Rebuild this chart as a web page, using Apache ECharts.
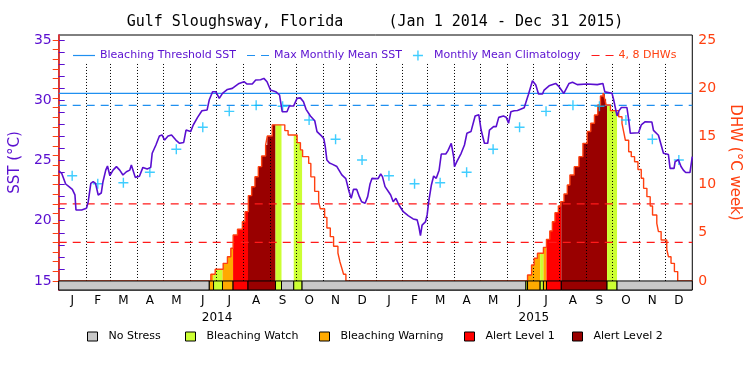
<!DOCTYPE html>
<html>
<head>
<meta charset="utf-8">
<title>Gulf Sloughsway, Florida</title>
<script src="https://cdn.jsdelivr.net/npm/echarts@6/dist/echarts.min.js"></script>
<style>
  html, body { margin: 0; padding: 0; background: #fff; }
  #chart { width: 750px; height: 375px; }
</style>
</head>
<body>
<div id="chart"></div>
<script>
  // ---- data (day 0 = Jan 1 2014) ----
  var monthLetters = ['J', 'F', 'M', 'A', 'M', 'J', 'J', 'A', 'S', 'O', 'N', 'D'];
  var monthLen = [31, 28, 31, 30, 31, 30, 31, 31, 30, 31, 30, 31];
  var years = ['2014', '2015'];

  // monthly mean climatology (°C), same for each year
  var clim = [23.74, 23.07, 23.16, 24.02, 25.93, 27.76, 29.08, 29.58, 29.5, 28.36, 26.76, 25.04];
  var maxMonthlyMean = 29.58;
  var bleachThreshold = 30.58;
  var dhwLevels = [4, 8];

  // daily SST
  var sstDay = [0, 3.4, 8, 11.8, 15.7, 18.7, 19.9, 26.4, 32, 34, 37, 39.7, 42.4, 45.5, 49, 51, 54.2, 56.2, 59, 62.6,
    66.5, 70.3, 74, 78, 81.8, 83.7, 85.6, 88.2, 93, 97, 102, 106, 107.7, 112, 116, 119, 122, 126, 130, 135,
    139.3, 144, 146.7, 152, 155, 160, 165, 171, 173.4, 177.3, 181, 185, 188.7, 194.4, 200, 207.8, 213.5, 217, 223, 227,
    232.6, 236.4, 240, 244, 250, 254.4, 257.5, 263, 265.7, 270.6, 274.6, 278.4, 282, 285, 290, 295, 297.6, 303.3, 305.5, 307.1,
    309, 312, 315, 320.5, 326.2, 330.8, 334.6, 337, 339.6, 343.4, 346.4, 349, 353, 356, 358.7, 361, 364, 368, 371, 373,
    376, 380, 382.5, 385.4, 388.5, 390, 392, 397, 402.6, 408.4, 413, 415, 416.8, 418.7, 422.5, 424.5, 426.3, 429.4, 432, 435,
    438.3, 440.8, 446, 448.5, 452.3, 455, 456, 458.7, 463.7, 467.5, 470.3, 475, 479.8, 484, 486.7, 490.5, 494.3, 496.3, 501, 504,
    507, 512.4, 515.5, 518.3, 521, 524.8, 528.6, 536.3, 541, 545.9, 549.7, 552.8, 557.4, 559.3, 565, 572.6, 576.5, 582, 588, 592,
    597.5, 609, 620.5, 627, 629.2, 637.5, 639.5, 643.3, 645.2, 648.3, 654.7, 656.7, 658.6, 668.1, 671.2, 675.8, 683.4, 685.3, 691, 696.8,
    702.5, 704.4, 709, 710.2, 714, 717, 719.7, 722.4, 727.3, 730];
  var sstVal = [24.15, 23.94, 23.05, 22.83, 22.6, 22.14, 20.89, 20.89, 21.03, 21.58, 23.1, 23.24, 23.1, 22.14, 22.3, 23.24, 24.2, 24.54, 23.74, 24.2,
    24.49, 24.2, 23.8, 24.07, 24.2, 24.63, 24.2, 23.6, 23.7, 24.43, 24.3, 24.43, 25.6, 26.29, 27.03, 27.12, 26.7, 27.03, 27.12, 26.7,
    26.43, 26.5, 27.53, 27.4, 27.95, 28.58, 29.13, 29.2, 30.02, 30.71, 30.71, 30.16, 30.57, 30.9, 30.99, 31.4, 31.54, 31.35, 31.35, 31.68,
    31.7, 31.82, 31.54, 30.85, 30.71, 30.44, 29.05, 29.05, 29.52, 29.52, 30.16, 30.2, 29.88, 29.25, 28.7, 28.3, 27.4, 27.0, 26.8, 26.15,
    25.04, 24.8, 24.7, 24.5, 23.8, 23.5, 22.41, 21.86, 22.6, 22.6, 22.0, 21.58, 21.45, 22.0, 23.05, 23.52, 23.5, 23.5, 23.88, 23.66,
    22.83, 22.41, 22.14, 21.58, 21.86, 21.86, 21.31, 20.75, 20.42, 20.15, 20.07, 19.5, 18.76, 19.64, 19.9, 20.48, 21.58, 22.97, 23.71, 23.52,
    24.2, 25.54, 25.54, 25.82, 26.43, 25.32, 24.49, 24.9, 25.6, 26.29, 27.26, 27.4, 28.69, 28.8, 27.53, 26.43, 26.43, 27.53, 27.81, 27.81,
    28.58, 28.69, 28.6, 28.09, 29.05, 29.13, 29.15, 29.38, 30.44, 31.63, 31.27, 30.52, 30.52, 30.85, 31.2, 31.4, 31.13, 30.57, 31.4, 31.5,
    31.3, 31.35, 31.3, 31.4, 30.7, 30.58, 30.0, 28.7, 29.1, 29.4, 29.4, 28.4, 27.26, 27.3, 27.95, 28.22, 28.2, 27.5, 27.1, 25.6,
    25.5, 24.35, 24.35, 24.9, 25.07, 24.5, 24.2, 24.0, 24.0, 25.32];

  // degree heating weeks, value holds from its day until the next one
  var dhwDay = [0, 175.3, 180.3, 189.5, 194.4, 198.3, 201, 206, 211.6, 214.7, 218.5, 222.3, 226.1, 230, 233.8, 238.4, 240.3, 246,
    260.5, 264.3, 274.7, 278.5, 281, 288, 290.5, 294.9, 299.5, 301.4, 306.4, 309, 312.9, 316.7, 321.7, 324, 326.3, 328.2, 330.9,
    540.2, 544.8, 547.8, 551.6, 558.5, 562, 565.8, 568.8, 571.8, 575.7, 578.4, 582.2, 586, 589, 594, 599.4, 604, 609, 613, 617.3,
    621.1, 624.2, 627.2, 629.2, 630.7, 635.7, 645.2, 649, 650.9, 652.9, 656.7, 659.7, 663.5, 667.4, 671.2, 673.9, 677.7, 681.5, 684.2,
    689.1, 691, 694.1, 700.6, 702.5, 705.5, 709.4, 713.2, 730];
  var dhwVal = [0, 0.69, 1.21, 1.83, 2.52, 3.39, 4.77, 5.36, 6.15, 7.19, 8.85, 9.78, 10.82, 11.86, 12.97, 14.1, 15.04, 16.2,
    15.6, 15.15, 14.35, 13.6, 12.9, 12.2, 10.8, 9.3, 8.2, 7.5, 6.6, 5.5, 4.6, 3.6, 2.9, 2.0, 1.3, 0.7, 0,
    0.62, 1.66, 2.35, 2.87, 3.49, 4.32, 5.19, 6.15, 7.09, 7.78, 8.23, 9.02, 9.96, 11.0, 11.86, 12.9, 14.28, 15.5, 16.36, 17.22,
    18.26, 19.19, 19.5, 18.85, 18.26, 17.67, 17.04, 16.36, 15.5, 14.6, 13.4, 12.9, 12.37, 11.57, 10.65, 9.61, 8.75, 7.78, 6.85,
    5.98, 5.12, 4.25, 3.29, 2.52, 1.83, 0.97, 0, 0];

  // stress level periods: 0 none, 1 watch, 2 warning, 3 alert 1, 4 alert 2
  var stressStart = [0, 173.5, 178.4, 188.7, 200.9, 218.1, 249.8, 256.7, 270.8, 280.4,
    538.3, 540.2, 554.7, 558.5, 562, 579.1, 631.8, 643.3];
  var stressEnd = [173.5, 178.4, 188.7, 200.9, 218.1, 249.8, 256.7, 270.8, 280.4, 538.3,
    540.2, 554.7, 558.5, 562, 579.1, 631.8, 643.3, 730];
  var stressLevel = [0, 2, 1, 2, 3, 4, 1, 0, 1, 0,
    1, 2, 1, 2, 3, 4, 1, 0];
  var stressNames = ['No Stress', 'Bleaching Watch', 'Bleaching Warning', 'Alert Level 1', 'Alert Level 2'];
  var stressColors = ['#c8c8c8', '#ccff33', '#ffaa00', '#ff0000', '#990000'];

  // ---- derived ----
  var dayEnd = 730;
  var monthStarts = [], monthMids = [];
  var d = 0;
  for (var y = 0; y < years.length; y++) {
    for (var m = 0; m < 12; m++) {
      monthStarts.push(d);
      monthMids.push(d + monthLen[m] / 2);
      d += monthLen[m];
    }
  }
  var yearMids = [dayEnd / 4, dayEnd * 3 / 4];

  var purple = '#5a0fd0';
  var orange = '#ff4010';
  var blue = '#2090f0';
  var red = '#ff1a1a';
  var cyan = '#10c0ff';
  var font = 'DejaVu Sans';
  var solidIcon = 'path://M0,0h22v1.2h-22z';
  var dashIcon = 'path://M0,0h8v1.2h-8z M14,0h8v1.2h-8z';
  var plusIcon = 'path://M0,4.3h10v1.4h-10z M4.3,0h1.4v10h-1.4z';

  function dhwAt(x) {
    var v = 0;
    for (var i = 0; i < dhwDay.length; i++) {
      if (dhwDay[i] <= x) v = dhwVal[i];
    }
    return v;
  }

  var segs = stressStart.map(function (s, i) { return [s, stressEnd[i], stressLevel[i]]; });
  var hotSegs = segs.filter(function (s) { return s[2] > 0; });

  var chart = echarts.init(document.getElementById('chart'));
  chart.setOption({
    animation: false,
    title: {
      text: 'Gulf Sloughsway, Florida     (Jan 1 2014 - Dec 31 2015)',
      left: 'center',
      top: 10,
      textStyle: { fontFamily: 'DejaVu Sans Mono', fontSize: 15, fontWeight: 'normal', color: '#000' }
    },
    legend: {
      left: 68,
      top: 45,
      itemWidth: 22,
      itemHeight: 10,
      itemGap: 11,
      selectedMode: false,
      textStyle: { fontFamily: font, fontSize: 11, color: purple },
      data: [
        { name: 'Bleaching Threshold SST', icon: solidIcon },
        { name: 'Max Monthly Mean SST', icon: dashIcon },
        { name: 'Monthly Mean Climatology', icon: plusIcon },
        { name: '4, 8 DHWs', icon: dashIcon, textStyle: { color: orange } }
      ]
    },
    grid: { left: 57, right: 56, top: 35, bottom: 85, show: true, borderColor: '#000', borderWidth: 1 },
    xAxis: [
      {
        type: 'value', min: 0, max: dayEnd,
        axisLine: { show: false }, axisTick: { show: false }, splitLine: { show: false },
        axisLabel: {
          customValues: monthMids, margin: 5,
          fontFamily: font, fontSize: 12, color: '#000',
          formatter: function (v) { return monthLetters[monthMids.indexOf(v) % 12]; }
        }
      },
      {
        type: 'value', min: 0, max: dayEnd, position: 'bottom', offset: 17,
        axisLine: { show: false }, axisTick: { show: false }, splitLine: { show: false },
        axisLabel: {
          customValues: yearMids, margin: 5,
          fontFamily: font, fontSize: 12, color: '#000',
          formatter: function (v) { return years[yearMids.indexOf(v)]; }
        }
      }
    ],
    yAxis: [
      {
        type: 'value', min: 14.25, max: 35.42, position: 'left',
        name: 'SST (°C)', nameLocation: 'middle', nameGap: 30,
        nameTextStyle: { fontFamily: font, fontSize: 15, color: purple },
        axisLine: { show: true, lineStyle: { color: purple, width: 1.5 } },
        axisTick: { inside: true, length: 6, customValues: [15, 16, 17, 18, 19, 20, 21, 22, 23, 24, 25, 26, 27, 28, 29, 30, 31, 32, 33, 34, 35], lineStyle: { color: purple } },
        axisLabel: { customValues: [15, 20, 25, 30, 35], margin: 7, fontFamily: font, fontSize: 14, color: purple },
        splitLine: { show: false }
      },
      {
        type: 'value', min: -0.9375, max: 25.52, position: 'right',
        name: 'DHW (°C week)', nameLocation: 'middle', nameGap: 28, nameRotate: -90,
        nameTextStyle: { fontFamily: font, fontSize: 15, color: orange },
        axisLine: { show: true, lineStyle: { color: orange, width: 1.5 } },
        axisTick: { inside: true, length: 6, customValues: [0, 1, 2, 3, 4, 5, 6, 7, 8, 9, 10, 11, 12, 13, 14, 15, 16, 17, 18, 19, 20, 21, 22, 23, 24, 25], lineStyle: { color: orange } },
        axisLabel: { customValues: [0, 5, 10, 15, 20, 25], margin: 6, fontFamily: font, fontSize: 14, color: orange },
        splitLine: { show: false }
      }
    ],
    series: [
      {
        // DHW area coloured by stress level
        type: 'custom', name: 'stressFill', xAxisIndex: 0, yAxisIndex: 1, z: 1, silent: true,
        encode: { x: [0, 1], y: 2 },
        data: hotSegs,
        renderItem: function (params, api) {
          var s = api.value(0), e = api.value(1), lv = api.value(2);
          var cur = dhwAt(s);
          var pts = [api.coord([s, 0]), api.coord([s, cur])];
          for (var i = 0; i < dhwDay.length; i++) {
            if (dhwDay[i] > s && dhwDay[i] < e) {
              pts.push(api.coord([dhwDay[i], cur]));
              cur = dhwVal[i];
              pts.push(api.coord([dhwDay[i], cur]));
            }
          }
          pts.push(api.coord([e, cur]), api.coord([e, 0]));
          return { type: 'polygon', shape: { points: pts }, style: { fill: stressColors[lv] } };
        }
      },
      {
        // dotted month separators
        type: 'custom', name: 'months', xAxisIndex: 0, yAxisIndex: 0, z: 2, silent: true,
        encode: { x: 0, y: 1 },
        data: monthStarts.slice(1).map(function (v) { return [v, 15]; }),
        renderItem: function (params, api) {
          var a = api.coord([api.value(0), 15]);
          var b = api.coord([api.value(0), 33.1]);
          return {
            type: 'line',
            shape: { x1: Math.round(a[0]) + 0.5, y1: a[1], x2: Math.round(b[0]) + 0.5, y2: b[1] },
            style: { stroke: '#000', lineWidth: 1, lineDash: [1, 2] }
          };
        }
      },
      {
        name: 'Bleaching Threshold SST', type: 'line', yAxisIndex: 0, z: 3, symbol: 'none', silent: true,
        data: [[0, bleachThreshold], [dayEnd, bleachThreshold]],
        itemStyle: { color: blue },
        lineStyle: { color: blue, width: 1.2 }
      },
      {
        name: 'Max Monthly Mean SST', type: 'line', yAxisIndex: 0, z: 3, symbol: 'none', silent: true,
        data: [[0, maxMonthlyMean], [dayEnd, maxMonthlyMean]],
        itemStyle: { color: blue },
        lineStyle: { color: blue, width: 1.2, type: [8, 6] }
      },
      {
        name: '4, 8 DHWs', type: 'line', yAxisIndex: 1, z: 3, symbol: 'none', silent: true,
        data: [[0, dhwLevels[0]], [dayEnd, dhwLevels[0]]],
        itemStyle: { color: red },
        lineStyle: { color: red, width: 1.2, type: [8, 6] }
      },
      {
        name: '4, 8 DHWs', type: 'line', yAxisIndex: 1, z: 3, symbol: 'none', silent: true,
        data: [[0, dhwLevels[1]], [dayEnd, dhwLevels[1]]],
        itemStyle: { color: red },
        lineStyle: { color: red, width: 1.2, type: [8, 6] }
      },
      {
        name: 'DHW', type: 'line', yAxisIndex: 1, z: 4, symbol: 'none', step: 'end', silent: true,
        data: dhwDay.map(function (v, i) { return [v, dhwVal[i]]; }),
        lineStyle: { color: orange, width: 1.4 }
      },
      {
        // stress level strip under the plot
        type: 'custom', name: 'stressStrip', xAxisIndex: 0, yAxisIndex: 1, z: 5, silent: true,
        encode: { x: [0, 1], y: 2 },
        data: segs,
        renderItem: function (params, api) {
          var p0 = api.coord([api.value(0), 0]);
          var p1 = api.coord([api.value(1), 0]);
          var bottom = params.coordSys.y + params.coordSys.height;
          return {
            type: 'rect',
            shape: { x: p0[0], y: p0[1], width: p1[0] - p0[0], height: bottom - p0[1] },
            style: { fill: stressColors[api.value(2)], stroke: '#000', lineWidth: 1 }
          };
        }
      },
      {
        name: 'Monthly Mean Climatology', type: 'scatter', yAxisIndex: 0, z: 6, silent: true,
        symbol: plusIcon,
        symbolSize: 10,
        itemStyle: { color: cyan },
        data: monthMids.map(function (v, i) { return [v, clim[i % 12]]; })
      },
      {
        name: 'SST', type: 'line', yAxisIndex: 0, z: 7, symbol: 'none', silent: true,
        data: sstDay.map(function (v, i) { return [v, sstVal[i]]; }),
        lineStyle: { color: purple, width: 1.6 }
      }
    ],
    graphic: stressNames.map(function (n, i) {
      var bx = [87, 185, 319, 464, 572][i];
      return {
        type: 'group', left: bx, top: 331,
        children: [
          { type: 'rect', shape: { x: 0, y: 0, width: 10, height: 9 }, style: { fill: stressColors[i], stroke: '#000', lineWidth: 1 } },
          { type: 'text', x: 21, y: 4.5, style: { text: n, font: '11px "DejaVu Sans"', fill: '#000', verticalAlign: 'middle' } }
        ]
      };
    })
  });
</script>
</body>
</html>
